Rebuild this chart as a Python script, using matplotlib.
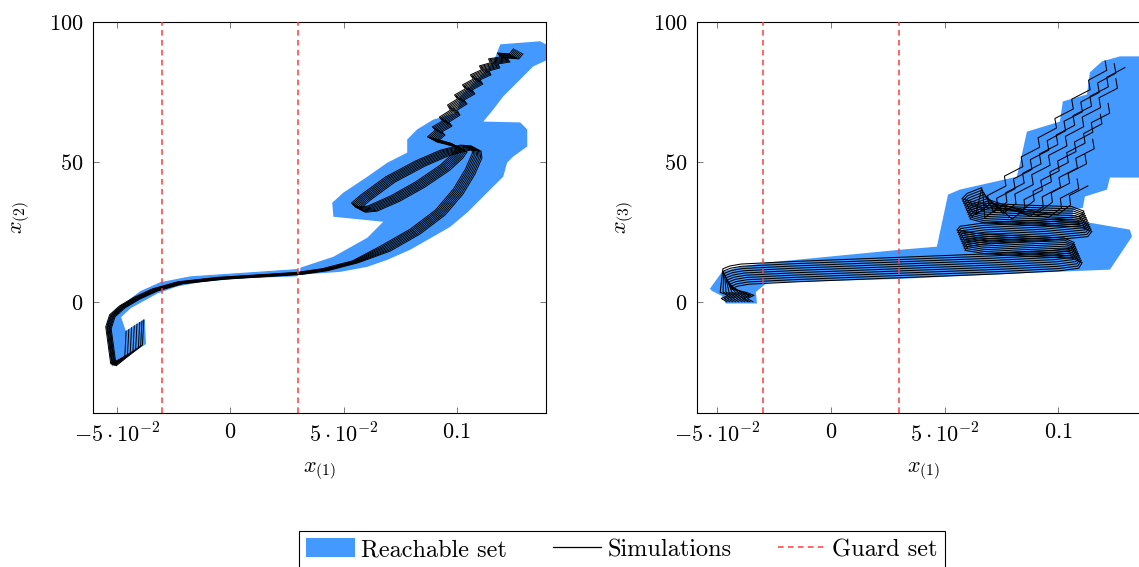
import numpy as np
import matplotlib as mpl
mpl.use('Agg')
import matplotlib.pyplot as plt
from matplotlib.patches import Patch
from matplotlib.lines import Line2D

plt.rcParams['font.family'] = 'cmr10'
plt.rcParams['mathtext.fontset'] = 'cm'
plt.rcParams['axes.unicode_minus'] = False

# ---------------- left panel: x(1) vs x(2) ----------------
# reachable set, upper part (loop + ridge)
left_set_up_x = [0.0309, 0.0455, 0.0605, 0.0675, 0.0455, 0.0450, 0.0499, 0.0605, 0.0693, 0.0781,
                 0.0781, 0.0825, 0.0896, 0.1002, 0.1015, 0.1090, 0.1161, 0.1192, 0.1368, 0.1434,
                 0.1434, 0.1337, 0.1267, 0.1205, 0.1161, 0.1117, 0.1280, 0.1311, 0.1311, 0.1249,
                 0.1222, 0.1205, 0.1161, 0.1103, 0.1046, 0.0971, 0.0896, 0.0794, 0.0693, 0.0605,
                 0.0485, 0.0309]
left_set_up_y = [12.2, 16.1, 22.9, 28.6, 30.4, 35.4, 39.0, 44.7, 49.7, 53.3,
                 58.0, 61.6, 65.1, 67.6, 73.4, 79.5, 85.5, 92.0, 93.1, 90.2,
                 87.7, 84.1, 78.4, 73.4, 68.7, 64.4, 64.1, 61.6, 55.5, 51.9,
                 49.7, 44.7, 41.2, 36.5, 31.9, 26.8, 23.3, 18.6, 15.0, 12.5,
                 10.7, 9.7]
# reachable set, lower part (V shape + thin band)
left_set_lo_x = [0.0296, -0.0031, -0.0177, -0.0309, -0.0397, -0.0485, -0.0530, -0.0543, -0.0521, -0.0375,
                 -0.0380, -0.0463, -0.0485, -0.0441, -0.0322, -0.0234, -0.0132, 0.0044, 0.0296]
left_set_lo_y = [11.5, 9.7, 8.9, 6.8, 3.6, -1.8, -5.4, -7.5, -22.9, -15.0,
                 -6.4, -10.7, -5.4, -2.1, 3.2, 5.7, 7.2, 8.6, 9.3]

# simulations: start on the V arm, drop down, follow the thin band, then loop and ridge
left_start_x = [-0.0460, -0.0448, -0.0436, -0.0424, -0.0412, -0.0400, -0.0390, -0.0382]
left_start_y = [-10.5, -9.9, -9.3, -8.6, -8.0, -7.4, -6.9, -6.5]
left_drop_x = [-0.0466, -0.0454, -0.0442, -0.0430, -0.0418, -0.0406, -0.0396, -0.0388]
left_drop_y = [-19.6, -18.9, -18.3, -17.7, -17.0, -16.4, -15.8, -15.4]
left_band_x = [-0.0516, -0.0538, -0.0521, -0.0477, -0.0410, -0.0331, -0.0221, -0.0044, 0.0177, 0.0309,
               0.0419, 0.0552]
left_band_y = [-22.5, -9.3, -5.0, -1.8, 1.4, 4.3, 6.8, 8.4, 9.5, 10.2,
               11.5, 14.3]
left_loop_x = [0.0684, 0.0816, 0.0927, 0.1006, 0.1059, 0.1090, 0.1086, 0.1037,
               0.0949, 0.0838, 0.0706, 0.0596, 0.0556, 0.0574, 0.0627, 0.0728, 0.0838, 0.0949,
               0.1006, 0.1024, 0.0993, 0.0927, 0.0891, 0.0927, 0.0913, 0.0958, 0.0944, 0.0993,
               0.0980, 0.1024, 0.1011, 0.1059, 0.1046, 0.1094, 0.1081, 0.1130, 0.1121, 0.1169,
               0.1161, 0.1214, 0.1200, 0.1253, 0.1271]
left_loop_y = [19.0, 25.1, 31.9, 39.4, 46.5, 52.3, 54.8, 55.1,
               53.3, 49.4, 43.7, 37.2, 34.4, 32.9, 33.3, 36.9, 41.9, 48.0,
               52.3, 54.4, 55.8, 57.3, 58.0, 60.5, 61.6, 63.7, 65.1, 67.6,
               69.4, 71.6, 73.0, 75.2, 76.6, 78.7, 80.2, 82.0, 83.4, 84.5,
               85.9, 86.6, 88.0, 87.7, 89.5]
left_band_dx = [-0.0012, -0.0008, -0.0005, -0.0002, 0.0002, 0.0005, 0.0008, 0.0012]
left_band_dy = [0.35, 0.25, 0.15, 0.05, -0.05, -0.15, -0.25, -0.35]
left_loop_dx = [-0.0021, -0.0015, -0.0009, -0.0003, 0.0003, 0.0009, 0.0015, 0.0021]
left_loop_dy = [0.9, 0.65, 0.4, 0.13, -0.13, -0.4, -0.65, -0.9]

# ---------------- right panel: x(1) vs x(3) ----------------
right_set_x = [-0.0532, -0.0479, -0.0400, -0.0281, 0.0303, 0.0466, 0.0515, 0.0567, 0.0818, 0.0862,
               0.1007, 0.1020, 0.1126, 0.1139, 0.1192, 0.1271, 0.1450, 0.1450, 0.1227, 0.1214,
               0.1117, 0.1108, 0.1064, 0.1064, 0.1315, 0.1324, 0.1227, 0.0888, 0.0303, -0.0281,
               -0.0330, -0.0325, -0.0462, -0.0479, -0.0523]
right_set_y = [4.7, 10.7, 12.5, 14.0, 18.6, 19.7, 38.3, 40.1, 44.7, 60.8,
               64.4, 71.6, 74.1, 82.0, 85.9, 87.7, 87.7, 44.4, 44.4, 40.1,
               37.6, 33.6, 32.9, 29.3, 25.8, 23.3, 11.5, 10.4, 8.2, 6.8,
               3.5, -0.6, -0.6, 2.1, 3.9]

right_start_x = [-0.0343, -0.0356, -0.0365, -0.0378, -0.0391, -0.0405, -0.0418, -0.0431, -0.0444, -0.0457]
right_head_dx = [0.0, -0.0025, 0.0005, -0.0030]
right_head_y = [0.0, 1.2, 2.3, 3.4]
# band towards the right and the horizontal loops (lowest simulation)
right_band_x = [-0.0440, -0.0410, -0.0360, -0.0136, 0.0303, 0.0743, 0.1007, 0.1090, 0.1105, 0.1060,
                0.0875, 0.0677, 0.0589, 0.0603, 0.0699, 0.0963, 0.1130, 0.1148, 0.1095, 0.0875,
                0.0677, 0.0611, 0.0633, 0.0699]
right_band_y = [4.6, 5.6, 6.3, 7.2, 8.6, 10.0, 11.1, 12.0, 14.0, 15.6,
                16.3, 17.2, 18.4, 19.8, 20.9, 22.0, 23.3, 25.2, 26.8, 27.4,
                28.2, 29.6, 31.5, 33.6]
right_band_dx = [0.0, -0.0004, -0.0008, -0.0012, -0.0016, -0.0020, -0.0024, -0.0028, -0.0032, -0.0035]
right_band_dy = [0.0, 0.8, 1.6, 2.4, 3.2, 4.0, 4.8, 5.6, 6.4, 7.2]
# wavy climb to the upper right
right_climb_x = [0.0677, 0.0734, 0.0729, 0.0810, 0.0803, 0.0884, 0.0877, 0.0958, 0.0951, 0.1032,
                 0.1025, 0.1106, 0.1099, 0.1180, 0.1173, 0.1253, 0.1246]
right_climb_y = [31.1, 34.6, 38.0, 41.4, 44.9, 48.3, 51.8, 55.2, 58.6, 62.1,
                 65.5, 68.9, 72.4, 75.8, 79.2, 82.7, 86.1]
right_climb_dx = [0.032, 0.028, 0.024, 0.020, 0.016, 0.012, 0.008, 0.004, 0.000, -0.004]
right_climb_dy = [0.0, -1.0, 1.0, -0.5, 1.5, -1.5, 0.5, 1.0, -1.0, 0.0]
right_climb_len = [4, 5, 7, 9, 11, 13, 15, 16, 17, 17]

guard = [-0.03, 0.03]
xticks = [-0.05, 0, 0.05, 0.1]
xticklabels = [r'$-5\cdot10^{-2}$', r'$0$', r'$5\cdot10^{-2}$', r'$0.1$']
yticks = [0, 50, 100]
yticklabels = [r'$0$', r'$50$', r'$100$']

reach_col = '#4499ff'
guard_col = '#ff3c3c'

fig = plt.figure(figsize=(11.39, 5.67), dpi=100)
axl = fig.add_axes([0.0817, 0.2722, 0.3977, 0.6891])
axr = fig.add_axes([0.6119, 0.2722, 0.3977, 0.6891])


def style(ax, xlim, ylabel):
    ax.set_xlim(*xlim)
    ax.set_ylim(-39.6, 100)
    ax.set_xticks(xticks)
    ax.set_xticklabels(xticklabels)
    ax.set_yticks(yticks)
    ax.set_yticklabels(yticklabels)
    ax.tick_params(direction='in', top=True, right=True, length=4, width=0.6,
                   color='0.4', labelsize=16, pad=7)
    for s in ax.spines.values():
        s.set_linewidth(0.8)
    ax.set_xlabel(r'$x_{(1)}$', fontsize=16, labelpad=10)
    ax.set_ylabel(ylabel, fontsize=16, labelpad=12)
    for g in guard:
        ax.axvline(g, color=guard_col, lw=1.1, ls=(0, (3.7, 2.8)), zorder=5)


# left
axl.fill(left_set_up_x, left_set_up_y, color=reach_col, lw=0, zorder=1)
axl.fill(left_set_lo_x, left_set_lo_y, color=reach_col, lw=0.8, ec=reach_col, zorder=1)
lbx, lby = np.array(left_band_x), np.array(left_band_y)
llx, lly = np.array(left_loop_x), np.array(left_loop_y)
for i in range(len(left_start_x)):
    xs = np.concatenate([[left_start_x[i], left_drop_x[i]],
                         lbx + left_band_dx[i], llx + left_loop_dx[i]])
    ys = np.concatenate([[left_start_y[i], left_drop_y[i]],
                         lby + left_band_dy[i], lly + left_loop_dy[i]])
    axl.plot(xs, ys, color='black', lw=0.7, zorder=3)
style(axl, (-0.0606, 0.1394), r'$x_{(2)}$')

# right
axr.fill(right_set_x, right_set_y, color=reach_col, lw=0, zorder=1)
bx = np.array(right_band_x)
by = np.array(right_band_y)
cx = np.array(right_climb_x)
cy = np.array(right_climb_y)
for i in range(len(right_start_x)):
    n = right_climb_len[i]
    xs = np.concatenate([right_start_x[i] + np.array(right_head_dx),
                         bx + right_band_dx[i],
                         cx[:n] + right_climb_dx[i]])
    ys = np.concatenate([right_head_y,
                         by + right_band_dy[i],
                         cy[:n] + right_climb_dy[i]])
    axr.plot(xs, ys, color='black', lw=0.75, zorder=3)
style(axr, (-0.0589, 0.1403), r'$x_{(3)}$')

handles = [Patch(facecolor=reach_col, edgecolor='none'),
           Line2D([], [], color='black', lw=0.9),
           Line2D([], [], color=guard_col, lw=1.1, ls=(0, (3.7, 2.8)))]
labels = ['Reachable set', 'Simulations', 'Guard set']
leg = fig.legend(handles, labels, loc='upper center', bbox_to_anchor=(0.546, 0.0635),
                 ncol=3, fontsize=17.5, frameon=True, fancybox=False, edgecolor='black',
                 framealpha=1, handlelength=2.0, handleheight=0.8, handletextpad=0.25,
                 columnspacing=1.9, borderpad=0.3, borderaxespad=0)
leg.get_frame().set_linewidth(0.8)

fig.savefig('out.png', dpi=100)
